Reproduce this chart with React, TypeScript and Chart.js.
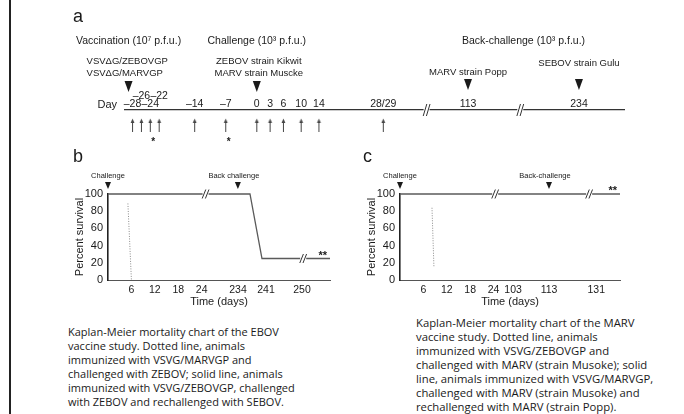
import React, { useEffect, useRef } from "react";
import { Chart, registerables } from "chart.js";

Chart.register(...registerables);
Chart.defaults.font.family = '"Liberation Sans", Arial, Helvetica, sans-serif';
Chart.defaults.color = "#1a1a1a";

// ---------------- Panel a: study timeline ----------------
const timelineTickDays = [-28, -26, -24, -22, -14, -7, 0, 3, 6, 10, 14, 28.5, 113, 234];
const timelineTickLabels = ["–28", "–26", "–24", "–22", "–14", "–7", "0", "3", "6", "10", "14", "28/29", "113", "234"];
const raisedTickLabels = ["–26", "–22"];
const sampleDays = [-28, -26, -24, -22, -14, -7, 0, 3, 6, 10, 14, 28.5];
const starredSampleDays = [-24, -7];
const timelineBreakDays = [69, 170];
const timelineStartDay = -29.7;
const timelineEndDay = 283;
// axis break definition (day -> axis unit)
const timelineAnchors = [[-30, -30], [30, 30], [113, 47.6], [234, 72.6], [290, 84.2]];
const vaccinationDay = -28;
const challengeDay = 0;
const marvBackChallengeDay = 113;
const sebovBackChallengeDay = 234;

// ---------------- Panel b: EBOV survival ----------------
const bTickDays = [6, 12, 18, 24, 234, 241, 250];
const bSolidDays = [0, 237, 240, 257];
const bSolidSurvival = [100, 100, 25, 25];
const bDottedDays = [5.1, 6];
const bDottedSurvival = [89, 0];
const bAnchors = [[0, 0], [28, 28], [234, 33.3], [250, 49.7], [262, 62]];
const bBreakDays = [25, 250.3];
const bBreakLevels = [100, 25];
const bChallengeDay = 0;
const bBackChallengeDay = 233;
const bEndDay = 257;

// ---------------- Panel c: MARV survival ----------------
const cTickDays = [6, 12, 18, 24, 103, 113, 131];
const cSolidDays = [0, 140];
const cSolidSurvival = [100, 100];
const cDottedDays = [8.2, 8.7];
const cDottedSurvival = [84, 15];
const cAnchors = [[0, 0], [27, 27], [103, 29], [113, 38.2], [131, 50.3], [140, 56.4]];
const cBreakDays = [24.4, 128.3];
const cBreakLevels = [100, 100];
const cChallengeDay = 0;
const cBackChallengeDay = 113;
const cEndDay = 140;

const survivalTicks = [0, 20, 40, 60, 80, 100];

const captionB = [
  "Kaplan-Meier mortality chart of the EBOV",
  "vaccine study. Dotted line, animals",
  "immunized with VSVG/MARVGP and",
  "challenged with ZEBOV; solid line, animals",
  "immunized with VSVG/ZEBOVGP, challenged",
  "with ZEBOV and rechallenged with SEBOV.",
];
const captionC = [
  "Kaplan-Meier mortality chart of the MARV",
  "vaccine study. Dotted line, animals",
  "immunized with VSVG/ZEBOVGP and",
  "challenged with MARV (strain Musoke); solid",
  "line, animals immunized with VSVG/MARVGP,",
  "challenged with MARV (strain Musoke) and",
  "rechallenged with MARV (strain Popp).",
];

const FONT = '"Liberation Sans", Arial, Helvetica, sans-serif';
const INK = "#1a1a1a";

function makeAxisMap(anchors: number[][]) {
  return (d: number) => {
    for (let i = 0; i < anchors.length - 1; i++) {
      const [d0, u0] = anchors[i];
      const [d1, u1] = anchors[i + 1];
      if (d <= d1 || i === anchors.length - 2) return u0 + ((d - d0) * (u1 - u0)) / (d1 - d0);
    }
    return d;
  };
}

function drawDownTriangle(ctx: CanvasRenderingContext2D, x: number, yTop: number, w: number, h: number) {
  ctx.save();
  ctx.fillStyle = INK;
  ctx.beginPath();
  ctx.moveTo(x - w / 2, yTop);
  ctx.lineTo(x + w / 2, yTop);
  ctx.lineTo(x, yTop + h);
  ctx.closePath();
  ctx.fill();
  ctx.restore();
}

function drawBreak(ctx: CanvasRenderingContext2D, x: number, y: number, h: number) {
  ctx.save();
  ctx.fillStyle = "#fff";
  ctx.fillRect(x - 3, y - 2, 6, 4);
  ctx.strokeStyle = "#333";
  ctx.lineWidth = 1;
  for (const k of [-1.6, 1.6]) {
    ctx.beginPath();
    ctx.moveTo(x + k - 1.8, y + h / 2);
    ctx.lineTo(x + k + 1.8, y - h / 2);
    ctx.stroke();
  }
  ctx.restore();
}

function text(ctx: CanvasRenderingContext2D, s: string, x: number, y: number, size: number, align: CanvasTextAlign = "center", weight = "normal") {
  ctx.save();
  ctx.font = `${weight} ${size}px ${FONT}`;
  ctx.fillStyle = INK;
  ctx.textAlign = align;
  ctx.textBaseline = "middle";
  ctx.fillText(s, x, y);
  ctx.restore();
}

function makeArrowImage() {
  const c = document.createElement("canvas");
  c.width = 7;
  c.height = 14;
  const g = c.getContext("2d")!;
  g.strokeStyle = "#444";
  g.lineWidth = 1;
  g.beginPath();
  g.moveTo(3.5, 4);
  g.lineTo(3.5, 14);
  g.stroke();
  g.fillStyle = "#444";
  g.beginPath();
  g.moveTo(3.5, 0.5);
  g.lineTo(1.6, 5);
  g.lineTo(5.4, 5);
  g.closePath();
  g.fill();
  return c;
}

function timelineConfig(): any {
  const map = makeAxisMap(timelineAnchors);
  const plugin = {
    id: "timelineDecor",
    afterDraw(chart: any) {
      const ctx = chart.ctx as CanvasRenderingContext2D;
      const xs = chart.scales.x;
      const px = (d: number) => xs.getPixelForValue(map(d));
      const lineY = chart.chartArea.top;
      text(ctx, "a", 73, 17, 18, "left");
      // headers
      text(ctx, "Vaccination (10⁷ p.f.u.)", px(vaccinationDay) - 4, 41, 10.5);
      text(ctx, "Challenge (10³ p.f.u.)", px(challengeDay), 41, 10.5);
      text(ctx, "Back-challenge (10³ p.f.u.)", (px(marvBackChallengeDay) + px(sebovBackChallengeDay)) / 2, 41, 10.5);
      text(ctx, "VSVΔG/ZEBOVGP", px(vaccinationDay) - 46, 61, 9.5, "left");
      text(ctx, "VSVΔG/MARVGP", px(vaccinationDay) - 46, 73.5, 9.5, "left");
      text(ctx, "ZEBOV strain Kikwit", px(challengeDay) + 2, 61, 9.5);
      text(ctx, "MARV strain Muscke", px(challengeDay) + 2, 73.5, 9.5);
      text(ctx, "MARV strain Popp", px(marvBackChallengeDay), 72.5, 9.5);
      text(ctx, "SEBOV strain Gulu", px(sebovBackChallengeDay), 63, 9.5);
      drawDownTriangle(ctx, px(vaccinationDay) - 4, 81, 8, 11);
      drawDownTriangle(ctx, px(challengeDay), 81, 8, 11);
      drawDownTriangle(ctx, px(marvBackChallengeDay), 79, 8, 11);
      drawDownTriangle(ctx, px(sebovBackChallengeDay), 79, 8, 11);
      // tick labels
      text(ctx, "Day", 117, 104.5, 11, "right");
      timelineTickDays.forEach((d, i) => {
        const lab = timelineTickLabels[i];
        const raised = raisedTickLabels.includes(lab);
        text(ctx, lab, px(d), raised ? 96 : 104.5, 10.5);
      });
      starredSampleDays.forEach((d) => text(ctx, "*", px(d) + 3, 142, 10, "center", "bold"));
      timelineBreakDays.forEach((d) => drawBreak(ctx, px(d), lineY, 12));
    },
  };
  return {
    type: "scatter",
    data: {
      datasets: [
        {
          data: sampleDays.map((d) => ({ x: map(d), y: 0.5 })),
          pointStyle: makeArrowImage(),
          pointRadius: 7,
        },
      ],
    },
    options: {
      animation: false,
      responsive: false,
      maintainAspectRatio: false,
      layout: { padding: { left: 125, right: 60, top: 110, bottom: 3 } },
      plugins: { legend: { display: false }, tooltip: { enabled: false } },
      scales: {
        x: {
          type: "linear",
          position: "top",
          min: map(timelineStartDay),
          max: map(timelineEndDay),
          grid: { display: false, drawTicks: false },
          ticks: { display: false },
          border: { color: "#333", width: 1.3 },
          afterFit: (s: any) => {
            s.height = 0;
          },
        },
        y: { display: false, min: 0, max: 1 },
      },
    },
    plugins: [plugin],
  };
}

interface SurvivalParams {
  letter: string;
  anchors: number[][];
  tickDays: number[];
  solidDays: number[];
  solidSurvival: number[];
  dottedDays: number[];
  dottedSurvival: number[];
  breakDays: number[];
  breakLevels: number[];
  challengeDay: number;
  backDay: number;
  backLabel: string;
  endDay: number;
  yWidth: number;
  yTitlePad: number;
  starLevel: number;
}

function survivalConfig(p: SurvivalParams): any {
  const map = makeAxisMap(p.anchors);
  const plugin = {
    id: "survivalDecor",
    afterDraw(chart: any) {
      const ctx = chart.ctx as CanvasRenderingContext2D;
      const xs = chart.scales.x;
      const ys = chart.scales.y;
      const px = (d: number) => xs.getPixelForValue(map(d));
      const top = chart.chartArea.top;
      text(ctx, p.letter, 13, 12, 18, "left");
      text(ctx, "Challenge", px(p.challengeDay), top - 18, 7.5);
      text(ctx, p.backLabel, px(p.backDay) - 4, top - 18, 7.5);
      drawDownTriangle(ctx, px(p.challengeDay), top - 12, 6, 7);
      drawDownTriangle(ctx, px(p.backDay), top - 12, 6, 7);
      p.breakDays.forEach((d, i) => drawBreak(ctx, px(d), ys.getPixelForValue(p.breakLevels[i]), 9));
      text(ctx, "**", chart.chartArea.right - 3, ys.getPixelForValue(p.starLevel) - 3, 11, "right", "bold");
    },
  };
  return {
    type: "line",
    data: {
      datasets: [
        {
          data: p.solidDays.map((d, i) => ({ x: map(d), y: p.solidSurvival[i] })),
          borderColor: "#5a5a5a",
          borderWidth: 1.3,
          pointRadius: 0,
          tension: 0,
          clip: false,
        },
        {
          data: p.dottedDays.map((d, i) => ({ x: map(d), y: p.dottedSurvival[i] })),
          borderColor: "#8a8a8a",
          borderWidth: 1,
          borderDash: [1, 1.5],
          pointRadius: 0,
          tension: 0,
        },
      ],
    },
    options: {
      animation: false,
      responsive: false,
      maintainAspectRatio: false,
      layout: { padding: { left: 0, right: 20, top: 49, bottom: 0 } },
      plugins: { legend: { display: false }, tooltip: { enabled: false } },
      scales: {
        x: {
          type: "linear",
          min: 0,
          max: map(p.endDay),
          grid: { display: false, drawTicks: false },
          border: { color: "#555", width: 1 },
          afterBuildTicks: (s: any) => {
            s.ticks = p.tickDays.map((d) => ({ value: map(d) }));
          },
          ticks: {
            autoSkip: false,
            maxRotation: 0,
            padding: 4,
            font: { size: 10.5 },
            color: INK,
            callback: (_v: any, i: number) => String(p.tickDays[i]),
          },
          title: {
            display: true,
            text: "Time (days)",
            font: { size: 11 },
            color: INK,
            padding: { top: 0, bottom: 6.5 },
          },
          afterFit: (s: any) => {
            s.height = 35;
          },
        },
        y: {
          min: 0,
          max: 100,
          grid: { display: false, drawTicks: false },
          border: { color: "#222", width: 1.6 },
          afterBuildTicks: (s: any) => {
            s.ticks = survivalTicks.map((v) => ({ value: v }));
          },
          ticks: { padding: 5, font: { size: 11 }, color: INK },
          title: {
            display: true,
            text: "Percent survival",
            font: { size: 11 },
            color: INK,
            padding: { top: p.yTitlePad, bottom: 0 },
          },
          afterFit: (s: any) => {
            s.width = p.yWidth;
          },
        },
      },
    },
    plugins: [plugin],
  };
}

function ChartBox({ make, left, top, width, height }: { make: () => any; left: number; top: number; width: number; height: number }) {
  const ref = useRef<HTMLCanvasElement | null>(null);
  useEffect(() => {
    const chart = new Chart(ref.current as HTMLCanvasElement, make());
    return () => chart.destroy();
  }, []);
  return <canvas ref={ref} width={width} height={height} style={{ position: "absolute", left, top, width, height }} />;
}

function Caption({ lines, left, top, size }: { lines: string[]; left: number; top: number; size: number }) {
  return (
    <div
      style={{
        position: "absolute",
        left,
        top,
        fontFamily: '"Open Sans", "Noto Sans", sans-serif',
        fontSize: size,
        lineHeight: "14px",
        color: INK,
        whiteSpace: "nowrap",
      }}
    >
      {lines.map((l, i) => (
        <div key={i}>{l}</div>
      ))}
    </div>
  );
}

export default function App() {
  return (
    <div style={{ position: "absolute", left: 0, top: 0, width: 684, height: 414, background: "#fff", overflow: "hidden" }}>
      <div style={{ position: "absolute", left: 9, top: 0, width: 2, height: 414, background: "#222" }} />
      <ChartBox make={timelineConfig} left={0} top={0} width={684} height={148} />
      <ChartBox
        make={() =>
          survivalConfig({
            letter: "b",
            anchors: bAnchors,
            tickDays: bTickDays,
            solidDays: bSolidDays,
            solidSurvival: bSolidSurvival,
            dottedDays: bDottedDays,
            dottedSurvival: bDottedSurvival,
            breakDays: bBreakDays,
            breakLevels: bBreakLevels,
            challengeDay: bChallengeDay,
            backDay: bBackChallengeDay,
            backLabel: "Back challenge",
            endDay: bEndDay,
            yWidth: 48,
            yTitlePad: 13,
            starLevel: 25,
          })
        }
        left={60}
        top={145}
        width={290}
        height={170}
      />
      <ChartBox
        make={() =>
          survivalConfig({
            letter: "c",
            anchors: cAnchors,
            tickDays: cTickDays,
            solidDays: cSolidDays,
            solidSurvival: cSolidSurvival,
            dottedDays: cDottedDays,
            dottedSurvival: cDottedSurvival,
            breakDays: cBreakDays,
            breakLevels: cBreakLevels,
            challengeDay: cChallengeDay,
            backDay: cBackChallengeDay,
            backLabel: "Back-challenge",
            endDay: cEndDay,
            yWidth: 50,
            yTitlePad: 15.5,
            starLevel: 100,
          })
        }
        left={350}
        top={145}
        width={290}
        height={170}
      />
      <Caption lines={captionB} left={68} top={325} size={11} />
      <Caption lines={captionC} left={416} top={316} size={11.3} />
    </div>
  );
}
